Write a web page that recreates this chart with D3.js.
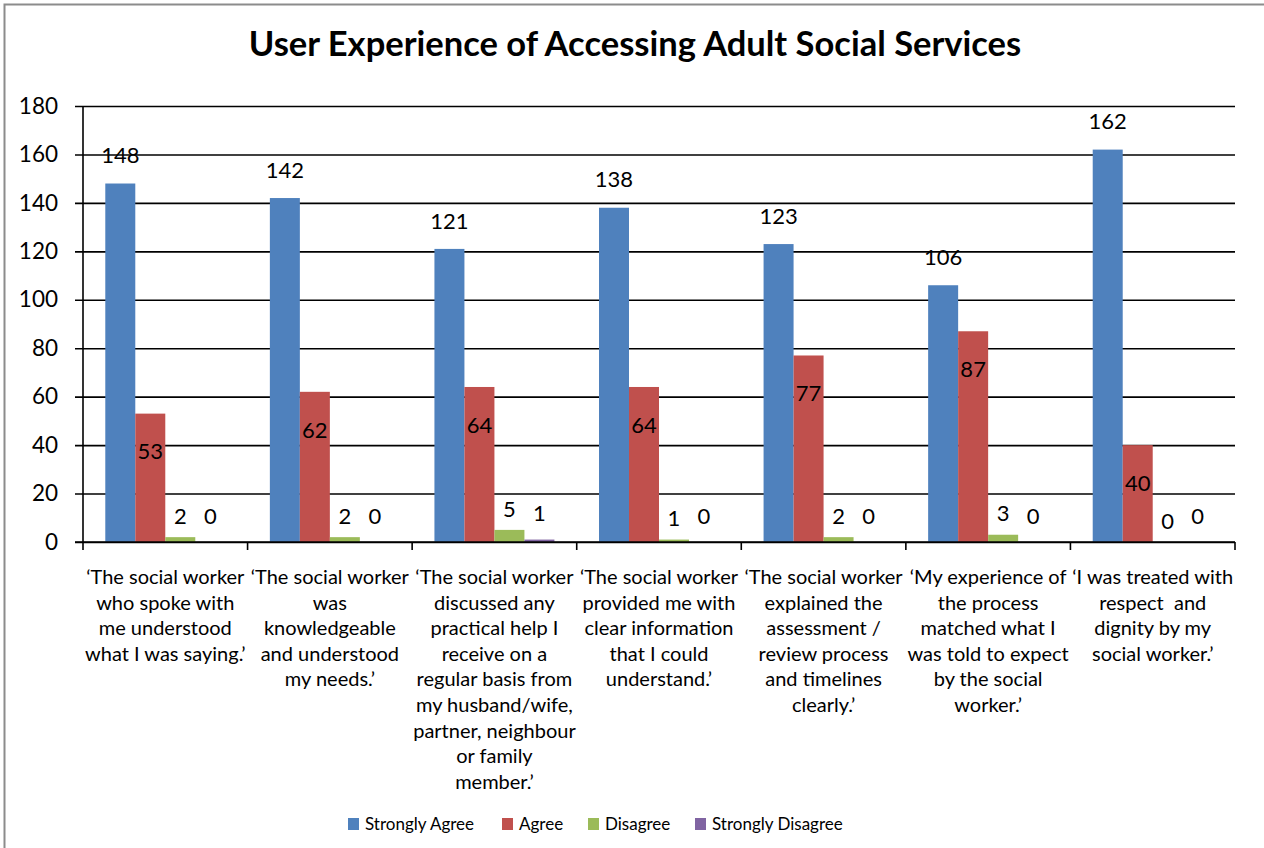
<!DOCTYPE html>
<html>
<head>
<meta charset="utf-8">
<script src="https://cdn.jsdelivr.net/npm/d3@7"></script>
<style>
  html, body { margin: 0; padding: 0; background: #fff; }
  svg { display: block; font-family: Lato, "Open Sans", sans-serif; }
</style>
</head>
<body>
<svg id="chart" width="1264" height="848"></svg>
<script>
// Survey statements (pre-wrapped as they appear under each group)
const categories = [
  ["\u2018The social worker", "who spoke with", "me understood", "what I was saying.\u2019"],
  ["\u2018The social worker", "was", "knowledgeable", "and understood", "my needs.\u2019"],
  ["\u2018The social worker", "discussed any", "practical help I", "receive on a", "regular basis from", "my husband/wife,", "partner, neighbour", "or family", "member.\u2019"],
  ["\u2018The social worker", "provided me with", "clear information", "that I could", "understand.\u2019"],
  ["\u2018The social worker", "explained the", "assessment /", "review process", "and timelines", "clearly.\u2019"],
  ["\u2018My experience of", "the process", "matched what I", "was told to expect", "by the social", "worker.\u2019"],
  ["\u2018I was treated with", "respect\u00a0 and", "dignity by my", "social worker.\u2019"]
];

const seriesNames = ["Strongly Agree", "Agree", "Disagree", "Strongly Disagree"];
const stronglyAgree    = [148, 142, 121, 138, 123, 106, 162];
const agree            = [53, 62, 64, 64, 77, 87, 40];
const disagree         = [2, 2, 5, 1, 2, 3, 0];
const stronglyDisagree = [0, 0, 1, 0, 0, 0, 0];
const yTicks = [0, 20, 40, 60, 80, 100, 120, 140, 160, 180];

const seriesValues = [stronglyAgree, agree, disagree, stronglyDisagree];
const colors = ["#4f81bd", "#c0504d", "#9bbb59", "#8064a2"];
// vertical placement of each series' value label relative to the bar top
const labelShift = [-28, 38, -21, -26];

const svg = d3.select("#chart");
const margin = { left: 83, right: 29, top: 106, bottom: 306 };
const W = 1264, H = 848;
const plotW = W - margin.left - margin.right;
const plotH = H - margin.top - margin.bottom;

// outer chart frame
svg.append("rect")
  .attr("x", 4.5).attr("y", 4.5)
  .attr("width", 1280).attr("height", 880)
  .attr("fill", "#fff").attr("stroke", "#8c8c8c").attr("stroke-width", 2);

// title
svg.append("text")
  .attr("x", 635).attr("y", 56)
  .attr("text-anchor", "middle")
  .attr("font-size", 34.5).attr("font-weight", "bold")
  .attr("fill", "#000")
  .text("User Experience of Accessing Adult Social Services");

const g = svg.append("g").attr("transform", `translate(${margin.left},${margin.top})`);

const x0 = d3.scaleBand()
  .domain(d3.range(categories.length))
  .range([0, plotW])
  .paddingInner(0).paddingOuter(0);

const x1 = d3.scaleBand()
  .domain(d3.range(seriesNames.length))
  .range([0, x0.bandwidth()])
  .paddingOuter(0.743).paddingInner(0);

const y = d3.scaleLinear().domain([0, 180]).range([plotH, 0]);

// horizontal gridlines with outside ticks
const yAxis = g.append("g")
  .call(d3.axisLeft(y).tickValues(yTicks).tickSize(-plotW).tickSizeOuter(0).tickPadding(25)
    .tickFormat(d3.format("d")));
yAxis.select(".domain").remove();
yAxis.selectAll(".tick line")
  .attr("x1", -8).attr("stroke", "#000").attr("stroke-width", 1.6);
yAxis.selectAll(".tick text")
  .attr("font-size", 22.5).attr("fill", "#000")
  .attr("font-family", "Lato, sans-serif");

// bars
const groups = g.selectAll(".grp")
  .data(categories.map((c, i) => i))
  .join("g")
  .attr("transform", i => `translate(${x0(i)},0)`);

seriesValues.forEach((vals, s) => {
  groups.append("rect")
    .attr("x", x1(s))
    .attr("width", x1.bandwidth())
    .attr("y", i => y(vals[i]))
    .attr("height", i => plotH - y(vals[i]))
    .attr("fill", colors[s]);
});

// vertical axis line
g.append("line")
  .attr("x1", 0).attr("x2", 0).attr("y1", 0).attr("y2", plotH + 1)
  .attr("stroke", "#000").attr("stroke-width", 1.6);

// category axis with ticks between groups
const boundaries = d3.range(categories.length + 1).map(i => i * x0.step());
g.append("line")
  .attr("x1", -8).attr("x2", plotW).attr("y1", plotH).attr("y2", plotH)
  .attr("stroke", "#000").attr("stroke-width", 1.6);
g.selectAll(".xtick")
  .data(boundaries)
  .join("line")
  .attr("x1", d => d).attr("x2", d => d)
  .attr("y1", plotH).attr("y2", plotH + 8)
  .attr("stroke", "#000").attr("stroke-width", 1.6);

// value labels
seriesValues.forEach((vals, s) => {
  groups.append("text")
    .attr("x", x1(s) + x1.bandwidth() / 2)
    .attr("y", i => y(vals[i]) + labelShift[s])
    .attr("dy", "0.35em")
    .attr("text-anchor", "middle")
    .attr("font-size", 22)
    .attr("fill", "#000")
    .text(i => vals[i]);
});

// category labels
groups.append("text")
  .attr("text-anchor", "middle")
  .attr("font-size", 20)
  .attr("fill", "#000")
  .each(function(i) {
    const t = d3.select(this);
    categories[i].forEach((line, k) => {
      t.append("tspan")
        .attr("x", x0.bandwidth() / 2)
        .attr("y", plotH + 42 + k * 25.6)
        .text(line);
    });
  });

// legend
const legendX = [348, 502, 588, 695];
const legend = svg.append("g");
seriesNames.forEach((name, s) => {
  legend.append("rect")
    .attr("x", legendX[s]).attr("y", 818)
    .attr("width", 11).attr("height", 12)
    .attr("fill", colors[s]);
  legend.append("text")
    .attr("x", legendX[s] + 17).attr("y", 830)
    .attr("font-size", 17).attr("fill", "#000")
    .text(name);
});
</script>
</body>
</html>
